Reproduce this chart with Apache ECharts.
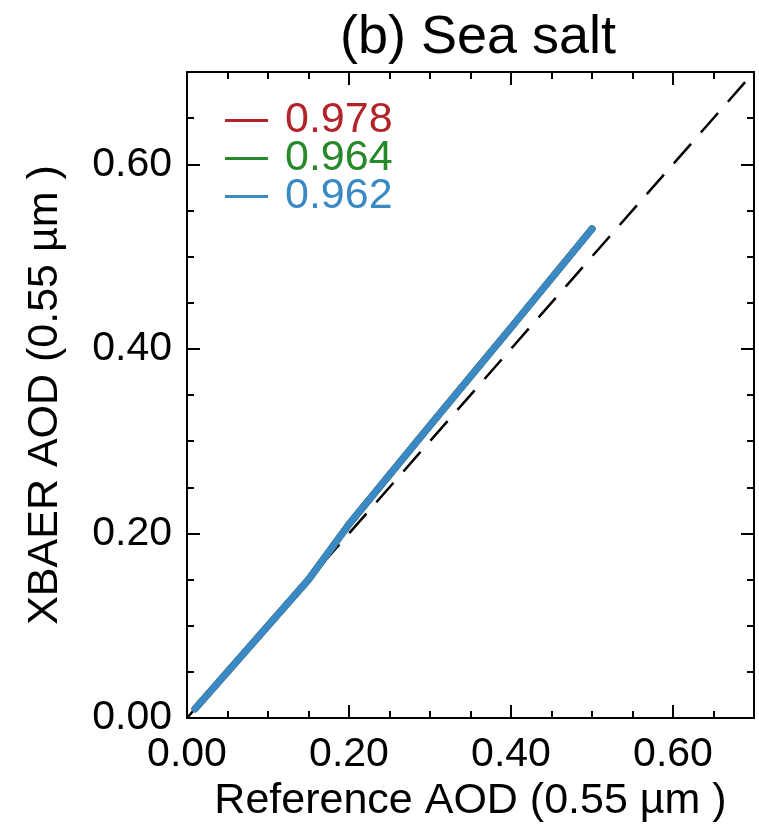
<!DOCTYPE html>
<html>
<head>
<meta charset="utf-8">
<script src="https://cdn.jsdelivr.net/npm/echarts@6/dist/echarts.min.js"></script>
<style>
  html, body { margin: 0; padding: 0; background: #ffffff; }
  #chart { width: 759px; height: 832px; }
</style>
</head>
<body>
<div id="chart"></div>
<script>
// Reference AOD at 0.55 µm (x) and retrieved XBAER AOD (y) for the three cases
const refAod = [0.01, 0.15, 0.20, 0.30, 0.40, 0.50];
const xbaerRed = [0.01, 0.15, 0.21, 0.317, 0.423, 0.53];
const xbaerGreen = [0.01, 0.15, 0.21, 0.317, 0.423, 0.53];
const xbaerBlue = [0.01, 0.15, 0.21, 0.317, 0.423, 0.53];
// correlation values shown in the legend
const seriesNames = ['0.978', '0.964', '0.962'];
const oneToOne = [0, 0.7];
const tickValues = [0, 0.2, 0.4, 0.6];

const colors = ['#b3232a', '#26892a', '#3a89c5'];
const FONT = '"Liberation Sans", Arial, Helvetica, sans-serif';
const gridBox = { left: 187, top: 72, right: 5, bottom: 114, containLabel: false };

function pairs(xs, ys) { return xs.map((x, i) => [x, ys[i]]); }
function fmt(v) {
  const hit = tickValues.find(t => Math.abs(t - v) < 1e-6);
  return hit === undefined ? '' : hit.toFixed(2);
}

// one axis of the frame; major ticks on grid 0, minor ticks on grid 1
function makeAxis(gridIndex, pos, interval, tickLen, extra) {
  return Object.assign({
    type: 'value', gridIndex: gridIndex, position: pos, min: 0, max: 0.7, interval: interval,
    axisLine: { show: true, onZero: false, lineStyle: { color: '#000', width: 2 } },
    axisTick: { show: true, inside: true, length: tickLen, lineStyle: { color: '#000', width: 2 } },
    axisLabel: { show: false },
    splitLine: { show: false }
  }, extra || {});
}

const tickLabel = (margin) => ({
  show: true, formatter: fmt, color: '#000', fontSize: 41, fontFamily: FONT, margin: margin
});

const chart = echarts.init(document.getElementById('chart'), null, { renderer: 'canvas' });
chart.setOption({
  backgroundColor: '#ffffff',
  animation: false,
  title: {
    text: '(b) Sea salt', left: 473, top: 6, textAlign: 'center',
    textStyle: { fontSize: 54, fontWeight: 'normal', color: '#000', fontFamily: FONT }
  },
  grid: [Object.assign({}, gridBox), Object.assign({}, gridBox)],
  legend: {
    left: 220, top: 94, orient: 'vertical',
    itemWidth: 43, itemHeight: 3, itemGap: -5, icon: 'rect',
    data: seriesNames.map((n, i) => ({ name: n, textStyle: { color: colors[i] } })),
    textStyle: { fontSize: 43, fontFamily: FONT, padding: [0, 0, 0, 12] }
  },
  xAxis: [
    makeAxis(0, 'bottom', 0.2, 13, {
      name: 'Reference AOD (0.55 µm )', nameLocation: 'middle', nameGap: 62,
      nameTextStyle: { fontSize: 43, color: '#000', fontFamily: FONT },
      axisLabel: tickLabel(16)
    }),
    makeAxis(0, 'top', 0.2, 13),
    makeAxis(1, 'bottom', 0.05, 7),
    makeAxis(1, 'top', 0.05, 7)
  ],
  yAxis: [
    makeAxis(0, 'left', 0.2, 13, {
      name: 'XBAER AOD (0.55 µm )', nameLocation: 'middle', nameGap: 120,
      nameTextStyle: { fontSize: 43, color: '#000', fontFamily: FONT },
      axisLabel: tickLabel(15)
    }),
    makeAxis(0, 'right', 0.2, 13),
    makeAxis(1, 'left', 0.05, 7),
    makeAxis(1, 'right', 0.05, 7)
  ],
  series: [
    {
      type: 'line', name: '1:1', data: pairs(oneToOne, oneToOne), symbol: 'none',
      xAxisIndex: 0, yAxisIndex: 0,
      lineStyle: { color: '#000', width: 2.5, type: [26, 15] }, z: 2
    },
    {
      type: 'line', name: seriesNames[0], data: pairs(refAod, xbaerRed), symbol: 'none',
      xAxisIndex: 0, yAxisIndex: 0, color: colors[0],
      lineStyle: { color: colors[0], width: 7, cap: 'round', join: 'round' }, z: 3
    },
    {
      type: 'line', name: seriesNames[1], data: pairs(refAod, xbaerGreen), symbol: 'none',
      xAxisIndex: 0, yAxisIndex: 0, color: colors[1],
      lineStyle: { color: colors[1], width: 7, cap: 'round', join: 'round' }, z: 4
    },
    {
      type: 'line', name: seriesNames[2], data: pairs(refAod, xbaerBlue), symbol: 'none',
      xAxisIndex: 0, yAxisIndex: 0, color: colors[2],
      lineStyle: { color: colors[2], width: 7, cap: 'round', join: 'round' }, z: 5
    }
  ]
});
</script>
</body>
</html>
